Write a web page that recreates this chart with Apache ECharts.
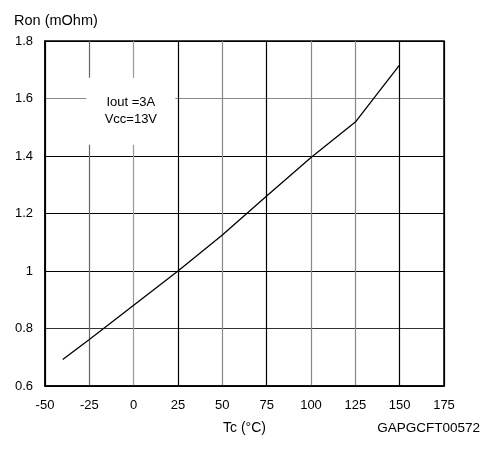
<!DOCTYPE html>
<html>
<head>
<meta charset="utf-8">
<script src="https://cdn.jsdelivr.net/npm/echarts@6/dist/echarts.min.js"></script>
<style>html,body{margin:0;padding:0;background:#fff;}#c{width:487px;height:449px;}</style>
</head>
<body>
<div id="c"></div>
<script>
var tempC = [-40, -25, 0, 25, 50, 75, 100, 125, 150];
var ronMOhm = [0.692, 0.762, 0.881, 1.0, 1.125, 1.261, 1.395, 1.518, 1.717];
var xTicks = [-50, 175, 25];
var yTicks = [0.6, 1.8, 0.2];
var noteText = ['Iout =3A', 'Vcc=13V'];
var noteBox = [[-26.7, 1.672], [23.5, 1.439]];

var font = '"Liberation Sans", Arial, sans-serif';
var chart = echarts.init(document.getElementById('c'), null, {renderer: 'canvas'});
chart.setOption({
  animation: false,
  backgroundColor: '#fff',
  title: {
    text: 'GAPGCFT00572', right: 7, top: 421, padding: 0,
    textStyle: {fontFamily: font, fontSize: 13.5, fontWeight: 'normal', color: '#000'}
  },
  grid: {left: 45, right: 43, top: 41, bottom: 63, show: true, borderColor: '#000', borderWidth: 1.5, backgroundColor: 'transparent'},
  xAxis: {
    type: 'value', min: xTicks[0], max: xTicks[1], interval: xTicks[2],
    name: 'Tc (°C)', nameLocation: 'middle', nameGap: 35,
    nameTextStyle: {fontFamily: font, fontSize: 14, color: '#000'},
    axisLine: {show: true, onZero: false, lineStyle: {color: '#000', width: 1.5}},
    axisTick: {show: false},
    axisLabel: {fontFamily: font, fontSize: 13, color: '#000', margin: 13},
    splitLine: {show: true, lineStyle: {width: 1.2, color: ['#000', '#666', '#999', '#000', '#888', '#000', '#888', '#888', '#000', '#000']}}
  },
  yAxis: {
    type: 'value', min: yTicks[0], max: yTicks[1], interval: yTicks[2],
    name: 'Ron (mOhm)', nameLocation: 'end', nameGap: 13,
    nameTextStyle: {fontFamily: font, fontSize: 14.5, color: '#000', align: 'left', padding: [0, 0, 0, -31]},
    axisLine: {show: true, onZero: false, lineStyle: {color: '#000', width: 1.5}},
    axisTick: {show: false},
    axisLabel: {fontFamily: font, fontSize: 13, color: '#000', margin: 12},
    splitLine: {show: true, lineStyle: {width: 1.2, color: ['#000', '#333', '#000', '#000', '#000', '#888', '#000']}}
  },
  series: [{
    type: 'line',
    data: tempC.map(function (t, i) { return [t, ronMOhm[i]]; }),
    symbol: 'none',
    lineStyle: {color: '#000', width: 1.3},
    markArea: {
      silent: true,
      itemStyle: {color: '#fff', opacity: 1},
      label: {
        show: true, position: 'inside', formatter: noteText.join('\n'),
        fontFamily: font, fontSize: 13, color: '#000', lineHeight: 17
      },
      data: [[{coord: noteBox[0]}, {coord: noteBox[1]}]]
    }
  }]
});
</script>
</body>
</html>
